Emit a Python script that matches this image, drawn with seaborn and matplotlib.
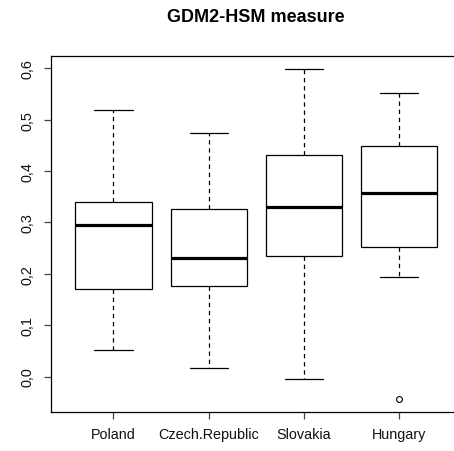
import pandas as pd
import matplotlib
matplotlib.use("Agg")
import matplotlib.pyplot as plt
import seaborn as sns

# five-number summaries (whisker low, Q1, median, Q3, whisker high)
countries = ["Poland", "Czech.Republic", "Slovakia", "Hungary"]
whisker_low = [0.052, 0.017, -0.004, 0.194]
q1 = [0.171, 0.177, 0.235, 0.252]
median = [0.295, 0.231, 0.330, 0.357]
q3 = [0.340, 0.326, 0.431, 0.449]
whisker_high = [0.518, 0.474, 0.598, 0.551]
outlier_country = ["Hungary"]
outlier_value = [-0.043]

y_ticks = [0.0, 0.1, 0.2, 0.3, 0.4, 0.5, 0.6]
y_ticklabels = ["0,0", "0,1", "0,2", "0,3", "0,4", "0,5", "0,6"]

rows = []
for i, c in enumerate(countries):
    for v in [whisker_low[i], q1[i], median[i], q3[i], whisker_high[i]]:
        rows.append({"country": c, "value": v})
data = pd.DataFrame(rows)
outliers = pd.DataFrame({"country": outlier_country, "value": outlier_value})

sns.set_style("ticks")
plt.rcParams["font.family"] = ["Liberation Sans", "DejaVu Sans"]

fig = plt.figure(figsize=(4.54, 4.52), dpi=100)
ax = fig.add_axes([0.1117, 0.0863, 0.905, 0.7876])

sns.boxplot(
    data=data, x="country", y="value", order=countries,
    whis=(0, 100), width=0.8, color="white", linecolor="black", linewidth=0.9,
    medianprops=dict(color="black", linewidth=2.3),
    whiskerprops=dict(linestyle=(0, (3.5, 3))),
    ax=ax,
)
sns.stripplot(
    data=outliers, x="country", y="value", order=countries,
    jitter=False, marker="o", size=4.2, color="white",
    edgecolor="black", linewidth=0.8, zorder=5, ax=ax,
)

ax.set_xlim(-0.66, 3.66)
ax.set_ylim(-0.069, 0.624)
ax.set_yticks(y_ticks)
ax.set_yticklabels(y_ticklabels, rotation=90, va="center")
ax.set_xlabel("")
ax.set_ylabel("")
for s in ax.spines.values():
    s.set_visible(True)
    s.set_linewidth(0.9)
    s.set_color("black")
ax.tick_params(axis="both", length=5, width=0.9, color="#444444",
               labelsize=10.4, labelcolor="#111111")
ax.tick_params(axis="y", pad=7)
ax.tick_params(axis="x", pad=6)

fig.text(0.564, 1 - 18 / 452, "GDM2-HSM measure", ha="center", va="center",
         fontsize=13, fontweight="bold", color="black")

fig.savefig("out.png", dpi=100)
